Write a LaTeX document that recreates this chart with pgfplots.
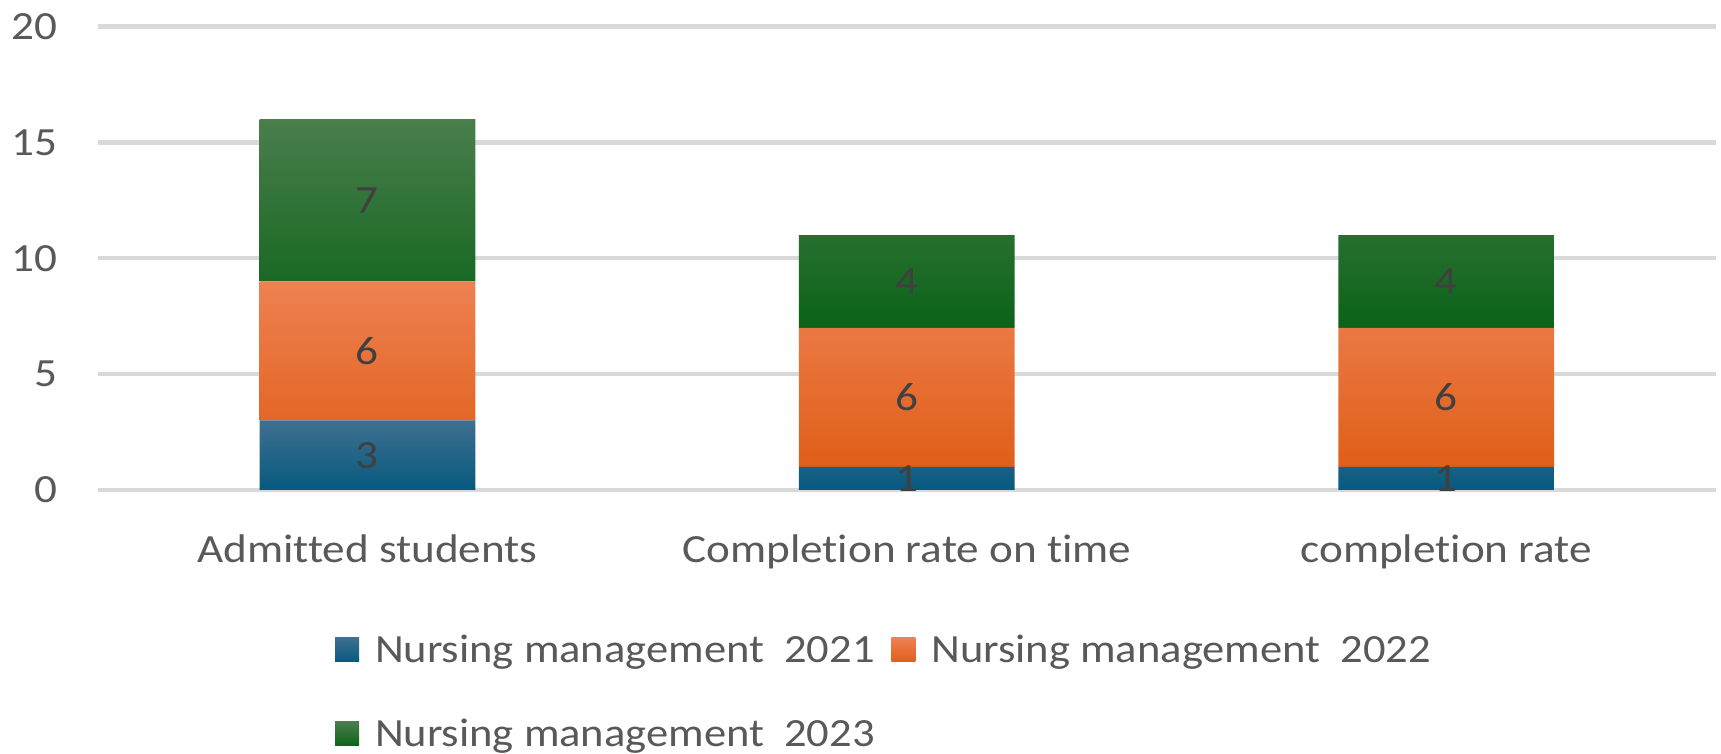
\documentclass[border=0pt]{standalone}
\usepackage{fontspec}
\setmainfont{Carlito}[Ligatures={NoCommon,NoRequired,NoContextual}, FakeStretch=1.13]
\newfontfamily\legfont{Carlito}[Ligatures={NoCommon,NoRequired,NoContextual}, FakeStretch=1.114]
\usepackage{pgfplots}
\pgfplotsset{compat=1.18}

\definecolor{txt}{HTML}{595959}
\definecolor{lbl}{HTML}{404040}
\definecolor{gridc}{HTML}{D9D9D9}
\definecolor{bluetop}{HTML}{3F6F90}
\definecolor{bluebot}{HTML}{055A7E}
\definecolor{orgtop}{HTML}{EE8152}
\definecolor{orgmid}{HTML}{F06B29}
\definecolor{orgbot}{HTML}{E05E18}
\definecolor{grntop}{HTML}{4A7E4C}
\definecolor{grnmid}{HTML}{137020}
\definecolor{grnbot}{HTML}{0B6318}

\newcommand\cf{\fontsize{12pt}{14pt}\selectfont}

\pgfplotsset{
  base/.style={
    scale only axis, width=485.5pt, height=139.05pt,
    at={(0,0)}, anchor=south west,
    xmin=-0.5, xmax=2.5, ymin=0, ymax=20,
  },
}

\begin{document}
\begin{tikzpicture}
\begin{axis}[
  base,
  ybar stacked, bar width=0.4,
  xtick={0,1,2},
  xticklabels={Admitted students, Completion rate on time, completion rate},
  ytick={0,5,10,15,20},
  ymajorgrids, grid style={draw=gridc, line width=1.3pt},
  axis line style={draw=none}, major tick length=0pt,
  /pgf/number format/assume math mode=true,
  tick label style={font=\cf, text=txt, inner sep=0pt},
  yticklabel style={anchor=east, xshift=-12pt},
  xticklabel style={anchor=base, yshift=-21.8pt},
  legend columns=2,
  legend cell align=left,
  legend image code/.code={\path[#1, draw=none] (0pt,-2.7pt) rectangle (7.2pt,4.5pt);},
  legend style={draw=none, fill=none, inner sep=0pt, outer sep=0pt,
    at={(0,0)}, anchor=north west, xshift=71.2pt, yshift=-42.9pt,
    font=\legfont\cf, text=txt,
    nodes={inner sep=0pt, text height=9pt, text depth=3pt},
    row sep=13.2pt,
    /tikz/every odd column/.append style={column sep=4.8pt},
    /tikz/every even column/.append style={column sep=5pt}},
]
\addplot[draw=none, top color=bluetop, bottom color=bluebot] coordinates {(0,3) (1,1) (2,1)};
\addlegendentry{Nursing management\ \ 2021}
\addplot[draw=none, top color=orgtop, middle color=orgmid, bottom color=orgbot] coordinates {(0,6) (1,6) (2,6)};
\addlegendentry{Nursing management\ \ 2022}
\addplot[draw=none, top color=grntop, middle color=grnmid, bottom color=grnbot] coordinates {(0,7) (1,4) (2,4)};
\addlegendentry{Nursing management\ \ 2023}
\end{axis}

% data labels, centred in each segment
\begin{axis}[base, hide axis]
\addplot[draw=none, mark=none, nodes near coords, point meta=explicit symbolic,
  nodes near coords style={anchor=center, font=\cf, text=lbl}]
  table[meta=v] {
x y v
0 1.5 3
1 0.5 1
2 0.5 1
0 6 6
1 4 6
2 4 6
0 12.5 7
1 9 4
2 9 4
};
\end{axis}

\pgfresetboundingbox
\path[use as bounding box] (-29.3pt,-79.2pt) rectangle (487pt,147pt);
\end{tikzpicture}
\end{document}
